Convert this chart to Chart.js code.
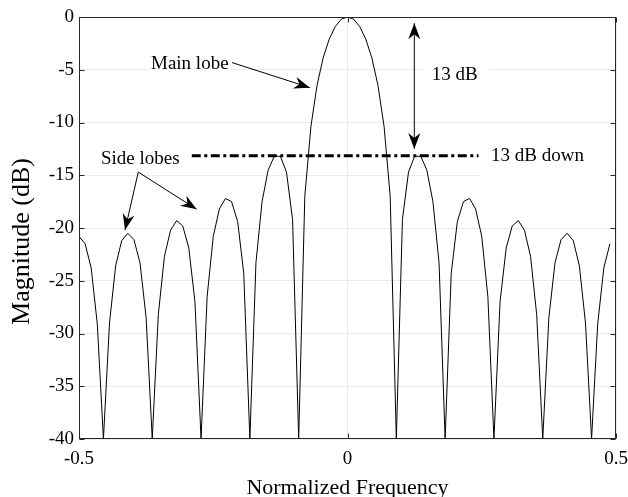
<!DOCTYPE html>
<html>
<head>
<meta charset="utf-8">
<script src="https://cdn.jsdelivr.net/npm/chart.js@4.4.0/dist/chart.umd.min.js"></script>
<style>
  html, body { margin: 0; padding: 0; background: #fff; }
  #wrap { width: 628px; height: 497px; }
</style>
</head>
<body>
<div id="wrap"><canvas id="lobeChart" width="628" height="497"></canvas></div>
<script>
// normalized frequency of each sample (88 samples)
const freq = [
  -0.5, -0.4886, -0.4773, -0.4659, -0.4545, -0.4432, -0.4318, -0.4205,
  -0.4091, -0.3977, -0.3864, -0.3750, -0.3636, -0.3523, -0.3409, -0.3295,
  -0.3182, -0.3068, -0.2955, -0.2841, -0.2727, -0.2614, -0.2500, -0.2386,
  -0.2273, -0.2159, -0.2045, -0.1932, -0.1818, -0.1705, -0.1591, -0.1477,
  -0.1364, -0.1250, -0.1136, -0.1023, -0.0909, -0.0795, -0.0682, -0.0568,
  -0.0455, -0.0341, -0.0227, -0.0114, 0, 0.0114, 0.0227, 0.0341,
  0.0455, 0.0568, 0.0682, 0.0795, 0.0909, 0.1023, 0.1136, 0.1250,
  0.1364, 0.1477, 0.1591, 0.1705, 0.1818, 0.1932, 0.2045, 0.2159,
  0.2273, 0.2386, 0.2500, 0.2614, 0.2727, 0.2841, 0.2955, 0.3068,
  0.3182, 0.3295, 0.3409, 0.3523, 0.3636, 0.3750, 0.3864, 0.3977,
  0.4091, 0.4205, 0.4318, 0.4432, 0.4545, 0.4659, 0.4773, 0.4886
];

// magnitude in dB (nulls sit on the -40 floor)
const magDb = [
  -20.8, -21.5, -23.8, -29.1, -40, -29.0, -23.6, -21.2,
  -20.5, -21.1, -23.3, -28.5, -40, -28.2, -22.7, -20.2,
  -19.3, -19.8, -21.9, -27.0, -40, -26.5, -20.8, -18.2,
  -17.2, -17.5, -19.4, -24.3, -40, -23.3, -17.5, -14.5,
  -13.2, -13.2, -14.7, -19.2, -40, -17.0, -10.4, -6.5,
  -3.9, -2.1, -0.9, -0.2, 0, -0.2, -0.9, -2.1,
  -3.9, -6.5, -10.4, -17.0, -40, -19.2, -14.7, -13.2,
  -13.2, -14.5, -17.5, -23.3, -40, -24.3, -19.4, -17.5,
  -17.2, -18.2, -20.8, -26.5, -40, -27.0, -21.9, -19.8,
  -19.3, -20.2, -22.7, -28.2, -40, -28.5, -23.3, -21.1,
  -20.5, -21.2, -23.6, -29.0, -40, -29.1, -23.8, -21.5
];

const xTicks = [-0.5, 0, 0.5];
const yTicks = [0, -5, -10, -15, -20, -25, -30, -35, -40];

// annotation anchors in data units
const downLevel = -13.15;
const downFrom = -0.290;
const downTo = 0.244;
const mainArrow = { from: [-0.215, -4.32], to: [-0.070, -6.70] };
const sideArrows = [
  { from: [-0.3896, -14.7], to: [-0.4143, -20.18] },
  { from: [-0.3896, -14.7], to: [-0.2808, -18.23] }
];
const dbArrow = { x: 0.1244, top: -0.6, bottom: -12.5 };
// pad = white background around the text: left, right, up, down (px)
const notes = [
  { text: 'Main lobe', at: [-0.3659, -4.42], pad: [2, 2, 10, 8] },
  { text: 'Side lobes', at: [-0.4590, -13.44], pad: null },
  { text: '13 dB', at: [0.1568, -5.49], pad: [9, 11, 14, 12] },
  { text: '13 dB down', at: [0.2672, -13.15], pad: [10, 24, 18, 21] }
];

const FONT = "'Liberation Serif', 'Times New Roman', serif";
const AXIS = '#262626';

function drawHead(ctx, x0, y0, x1, y1) {
  const ang = Math.atan2(y1 - y0, x1 - x0);
  ctx.save();
  ctx.translate(x1, y1);
  ctx.rotate(ang);
  ctx.beginPath();
  ctx.moveTo(0, 0);
  ctx.lineTo(-16, -6);
  ctx.lineTo(-11, 0);
  ctx.lineTo(-16, 6);
  ctx.closePath();
  ctx.fill();
  ctx.restore();
}

function drawArrow(ctx, x0, y0, x1, y1) {
  ctx.beginPath();
  ctx.moveTo(x0, y0);
  ctx.lineTo(x1, y1);
  ctx.stroke();
  drawHead(ctx, x0, y0, x1, y1);
}

const notesPlugin = {
  id: 'lobeNotes',
  afterDatasetsDraw(chart) {
    const { ctx, scales: { x, y } } = chart;
    const px = v => x.getPixelForValue(v);
    const py = v => y.getPixelForValue(v);
    ctx.save();
    ctx.strokeStyle = '#000';
    ctx.fillStyle = '#000';

    // 13 dB down reference line
    ctx.lineWidth = 3;
    ctx.setLineDash([9, 3.5, 3, 3.5]);
    ctx.beginPath();
    ctx.moveTo(px(downFrom), py(downLevel));
    ctx.lineTo(px(downTo), py(downLevel));
    ctx.stroke();
    ctx.setLineDash([]);

    // text labels
    ctx.font = '19px ' + FONT;
    ctx.textBaseline = 'middle';
    ctx.textAlign = 'left';
    notes.forEach(n => {
      const tx = px(n.at[0]);
      const ty = py(n.at[1]);
      if (n.pad) {
        const w = ctx.measureText(n.text).width;
        const [pl, pr, pu, pd] = n.pad;
        ctx.fillStyle = '#fff';
        ctx.fillRect(tx - pl, ty - pu, w + pl + pr, pu + pd);
        ctx.fillStyle = '#000';
      }
      ctx.fillText(n.text, tx, ty);
    });

    // arrows
    ctx.lineWidth = 1;
    drawArrow(ctx, px(mainArrow.from[0]), py(mainArrow.from[1]), px(mainArrow.to[0]), py(mainArrow.to[1]));
    sideArrows.forEach(a => {
      drawArrow(ctx, px(a.from[0]), py(a.from[1]), px(a.to[0]), py(a.to[1]));
    });
    const ax = px(dbArrow.x);
    const yTop = py(dbArrow.top);
    const yBot = py(dbArrow.bottom);
    ctx.beginPath();
    ctx.moveTo(ax, yTop);
    ctx.lineTo(ax, yBot);
    ctx.stroke();
    drawHead(ctx, ax, yBot, ax, yTop);
    drawHead(ctx, ax, yTop, ax, yBot);
    ctx.restore();
  },
  afterDraw(chart) {
    const { ctx, chartArea: a, scales: { x, y } } = chart;
    const L = Math.round(a.left) + 0.5;
    const R = Math.round(a.right) - 0.5;
    const T = Math.round(a.top) + 0.5;
    const B = Math.round(a.bottom) - 0.5;
    ctx.save();
    ctx.strokeStyle = AXIS;
    ctx.lineWidth = 1;
    ctx.strokeRect(L, T, R - L, B - T);
    ctx.beginPath();
    yTicks.forEach(v => {
      const yy = Math.round(y.getPixelForValue(v)) + 0.5;
      ctx.moveTo(L, yy); ctx.lineTo(L + 5, yy);
      ctx.moveTo(R, yy); ctx.lineTo(R - 5, yy);
    });
    xTicks.forEach(v => {
      const xx = Math.round(x.getPixelForValue(v)) + 0.5;
      ctx.moveTo(xx, B); ctx.lineTo(xx, B - 5);
      ctx.moveTo(xx, T); ctx.lineTo(xx, T + 5);
    });
    ctx.stroke();

    // y axis title, placed where the reference has it
    ctx.fillStyle = '#000';
    ctx.font = '26px ' + FONT;
    ctx.textAlign = 'center';
    ctx.textBaseline = 'middle';
    ctx.translate(22, 241.5);
    ctx.rotate(-Math.PI / 2);
    ctx.fillText('Magnitude (dB)', 0, 0);
    ctx.restore();
  }
};

new Chart(document.getElementById('lobeChart'), {
  type: 'line',
  data: {
    datasets: [{
      data: freq.map((f, i) => ({ x: f, y: magDb[i] })),
      borderColor: '#000',
      borderWidth: 1,
      pointRadius: 0,
      tension: 0,
      fill: false
    }]
  },
  options: {
    responsive: false,
    animation: false,
    layout: { padding: { top: 17, right: 12, left: 0, bottom: 0 } },
    plugins: {
      legend: { display: false },
      tooltip: { enabled: false }
    },
    scales: {
      x: {
        type: 'linear',
        min: -0.5,
        max: 0.5,
        afterBuildTicks: scale => { scale.ticks = xTicks.map(v => ({ value: v })); },
        afterFit: scale => {
          scale.height = 58;
          scale.paddingLeft = 0;
          scale.paddingRight = 0;
        },
        ticks: {
          color: '#000',
          padding: 9,
          maxRotation: 0,
          font: { family: FONT, size: 19 }
        },
        grid: { color: '#ebebeb', drawTicks: false },
        border: { display: false },
        title: {
          display: true,
          text: 'Normalized Frequency',
          color: '#000',
          padding: 0,
          font: { family: FONT, size: 22, lineHeight: 0.8 }
        }
      },
      y: {
        min: -40,
        max: 0,
        afterBuildTicks: scale => { scale.ticks = yTicks.map(v => ({ value: v })); },
        afterFit: scale => {
          scale.width = 79;
          scale.paddingTop = 0;
          scale.paddingBottom = 0;
        },
        ticks: {
          color: '#000',
          padding: 5,
          font: { family: FONT, size: 19 }
        },
        grid: { color: '#ebebeb', drawTicks: false },
        border: { display: false }
      }
    }
  },
  plugins: [notesPlugin]
});
</script>
</body>
</html>
